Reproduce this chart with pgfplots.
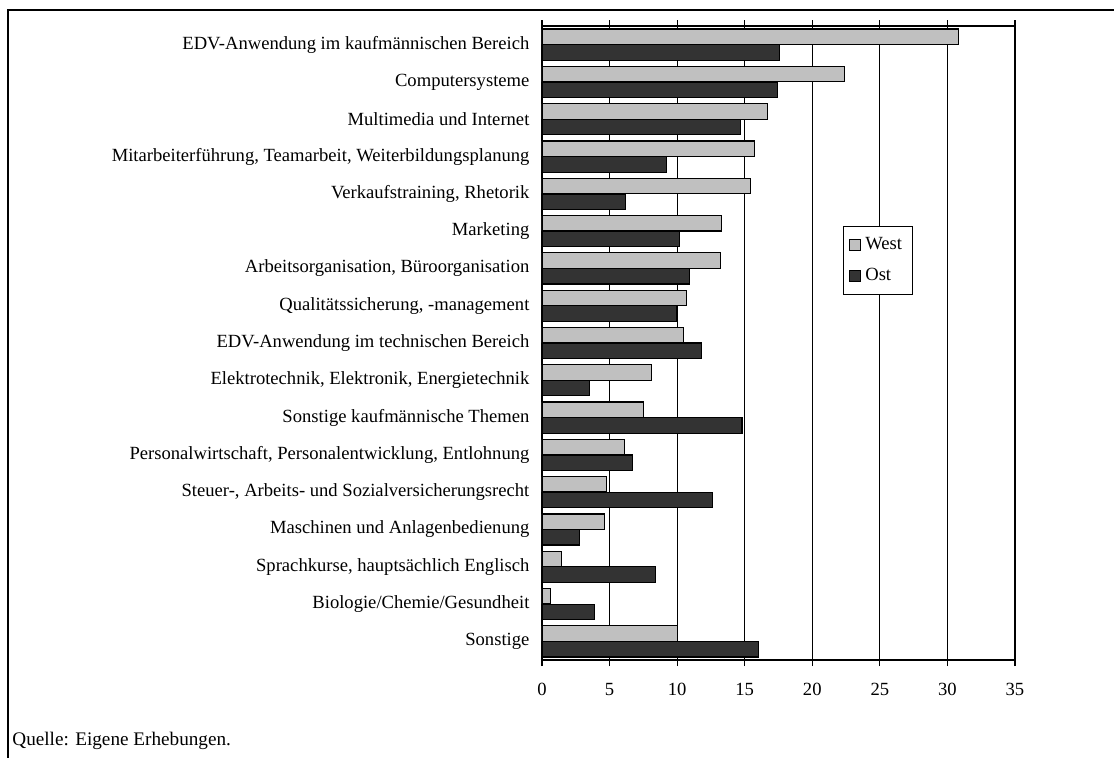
\documentclass[border=0pt]{standalone}
\usepackage{pgfplots}
\pgfplotsset{compat=1.18}
\usepackage{fontspec}
\setmainfont{Liberation Serif}
\definecolor{west}{RGB}{192,192,192}
\definecolor{ost}{RGB}{51,51,51}
\begin{document}
\fontsize{9.3}{11}\selectfont
\begin{tikzpicture}
\useasboundingbox (0,0) rectangle (557pt,-379pt);
\draw[line width=1pt] (4pt,-379pt) -- (4pt,-5pt) -- (557pt,-5pt);
\node[anchor=base west, inner sep=0] at (6pt,-372.5pt) {\fontsize{9.6}{11}\selectfont Quelle: Eigene Erhebungen.};
\begin{axis}[
  at={(271pt,-330pt)}, anchor=south west,
  scale only axis, width=236.5pt, height=317pt,
  xmin=0, xmax=35, xtick={0,5,...,35},
  ymin=-0.5, ymax=16.5, y dir=reverse,
  ytick={0,...,16},
  yticklabels={EDV-Anwendung im kaufmännischen Bereich, Computersysteme, Multimedia und Internet, {Mitarbeiterführung, Teamarbeit, Weiterbildungsplanung}, {Verkaufstraining, Rhetorik}, Marketing, {Arbeitsorganisation, Büroorganisation}, {Qualitätssicherung, -management}, EDV-Anwendung im technischen Bereich, {Elektrotechnik, Elektronik, Energietechnik}, Sonstige kaufmännische Themen, {Personalwirtschaft, Personalentwicklung, Entlohnung}, {Steuer-, Arbeits- und Sozialversicherungsrecht}, Maschinen und Anlagenbedienung, {Sprachkurse, hauptsächlich Englisch}, Biologie/Chemie/Gesundheit, Sonstige},
  minor ytick={-0.5,0.5,...,16.5},
  tick align=outside,
  major tick length=3pt, minor tick length=2.5pt,
  ytick style={draw=none},
  tick style={black, line width=0.6pt},
  xmajorgrids, grid style={black, line width=0.5pt},
  axis line style={black, line width=0.6pt},
  /pgf/number format/assume math mode=true,
  tick label style={font=\fontsize{9.3}{11}\selectfont},
  yticklabel style={xshift=0pt},
  xticklabel style={yshift=-5.5pt},
  legend style={at={(0.636,0.6845)}, anchor=north west, draw=black, line width=0.5pt,
    font=\fontsize{9.3}{11}\selectfont, row sep=4pt, inner xsep=3pt, inner ysep=3.5pt},
  legend cell align=left,
]
\addplot[xbar, bar width=0.415, bar shift=-0.21, fill=west, draw=black, line width=0.6pt,
  legend image code/.code={\draw[fill=west,draw=black,line width=0.5pt] (0pt,-2.75pt) rectangle (5.5pt,2.75pt);}]
  coordinates {(30.8,0) (22.4,1) (16.7,2) (15.75,3) (15.4,4) (13.3,5) (13.2,6) (10.7,7) (10.5,8) (8.1,9) (7.5,10) (6.1,11) (4.8,12) (4.6,13) (1.45,14) (0.6,15) (10.0,16)};
\addplot[xbar, bar width=0.415, bar shift=0.21, fill=ost, draw=black, line width=0.6pt,
  legend image code/.code={\draw[fill=ost,draw=black,line width=0.5pt] (0pt,-2.75pt) rectangle (5.5pt,2.75pt);}]
  coordinates {(17.55,0) (17.4,1) (14.7,2) (9.2,3) (6.2,4) (10.2,5) (10.9,6) (9.95,7) (11.8,8) (3.5,9) (14.8,10) (6.7,11) (12.6,12) (2.8,13) (8.4,14) (3.9,15) (16.0,16)};
\legend{West,Ost}
\end{axis}
\end{tikzpicture}
\end{document}
